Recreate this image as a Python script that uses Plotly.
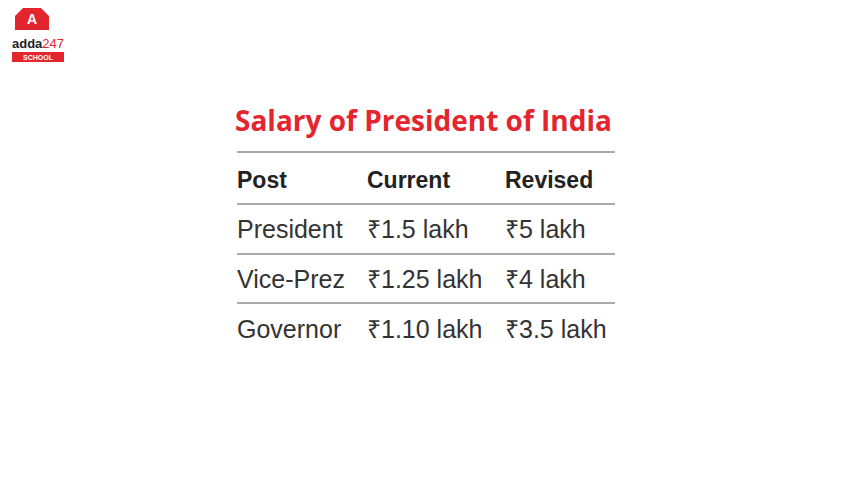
import plotly.graph_objects as go

title = "Salary of President of India"
header = ["Post", "Current", "Revised"]
posts = ["President", "Vice-Prez", "Governor"]
current = ["₹1.5 lakh", "₹1.25 lakh", "₹1.10 lakh"]
revised = ["₹5 lakh", "₹4 lakh", "₹3.5 lakh"]

W, H = 844, 485
# page is drawn with an 8px body offset, so coordinates are shifted back
OFF = 8
col_x = [237 - OFF, 367 - OFF, 505 - OFF]
header_y = 182 - OFF
row_y = [232 - OFF, 282 - OFF, 332 - OFF]
line_y = [152 - OFF, 204 - OFF, 254 - OFF, 303 - OFF]
font = "Liberation Sans Narrow, Liberation Sans, Arial"

fig = go.Figure()

# header row
fig.add_trace(go.Scatter(
    x=col_x, y=[header_y] * 3, text=["<b>%s</b>" % h for h in header],
    mode="text", textposition="middle right",
    textfont=dict(family=font, size=23, color="#222"), hoverinfo="skip"))

# body cells, one trace per column
for cx, col in zip(col_x, [posts, current, revised]):
    fig.add_trace(go.Scatter(
        x=[cx] * len(col), y=row_y, text=col,
        mode="text", textposition="middle right",
        textfont=dict(family=font, size=25, color="#333"), hoverinfo="skip"))

shapes = [dict(type="line", x0=237 - OFF, x1=615 - OFF, y0=y, y1=y,
               line=dict(color="#555", width=1)) for y in line_y]

# logo
shapes.append(dict(type="path", path="M 17 -2 L 31 -2 L 41 8 L 41 22 L 7 22 L 7 8 Z",
                   fillcolor="#e3262e", line=dict(width=0)))
shapes.append(dict(type="rect", x0=4, x1=56, y0=44, y1=54,
                   fillcolor="#e3262e", line=dict(width=0)))

annotations = [
    dict(x=423 - OFF, y=120 - OFF, text="<b>%s</b>" % title, showarrow=False,
         font=dict(family="Open Sans, Arial", size=28, color="#e3262e")),
    dict(x=24, y=11, text="<b>A</b>", showarrow=False,
         font=dict(family="Arial", size=14, color="white")),
    dict(x=30, y=35, text="<b>adda</b><span style='color:#e3262e'>247</span>", showarrow=False,
         font=dict(family="Arial", size=13, color="#222")),
    dict(x=30, y=49, text="<b>SCHOOL</b>", showarrow=False,
         font=dict(family="Arial", size=7, color="white")),
]

fig.update_layout(
    width=W, height=H, margin=dict(l=0, r=0, t=0, b=0),
    plot_bgcolor="white", paper_bgcolor="white", showlegend=False,
    xaxis=dict(range=[0, W], visible=False, fixedrange=True),
    yaxis=dict(range=[H, 0], visible=False, fixedrange=True),
    shapes=shapes, annotations=annotations,
)

fig.write_html("out.html")
